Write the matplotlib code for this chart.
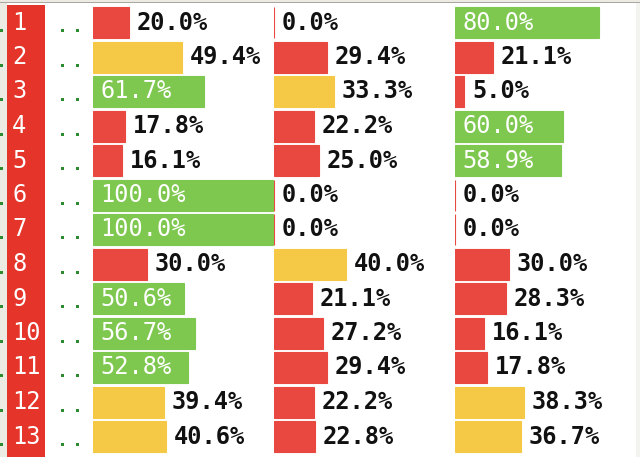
import matplotlib
matplotlib.use("Agg")
import matplotlib.pyplot as plt
from matplotlib.patches import Rectangle

# Daten
rows = [str(i) for i in range(1, 14)]
col1 = [20.0, 49.4, 61.7, 17.8, 16.1, 100.0, 100.0, 30.0, 50.6, 56.7, 52.8, 39.4, 40.6]
col2 = [0.0, 29.4, 33.3, 22.2, 25.0, 0.0, 0.0, 40.0, 21.1, 27.2, 29.4, 22.2, 22.8]
col3 = [80.0, 21.1, 5.0, 60.0, 58.9, 0.0, 0.0, 30.0, 28.3, 16.1, 17.8, 38.3, 36.7]
columns = [col1, col2, col3]

W, H = 640, 457
PX = 0.72  # points per pixel at dpi 100
FS = 17

RED_COL = "#e5352b"
RED_BAR = "#e8483f"
YELLOW = "#f5c945"
GREEN = "#7ec850"
DOT = "#2f8a2f"


def bar_color(v):
    if v >= 50:
        return GREEN
    if v >= 33:
        return YELLOW
    return RED_BAR


fig = plt.figure(figsize=(W / 100, H / 100), dpi=100)
fig.patch.set_facecolor("white")


def rect_px(x, y, w, h, color):
    # rectangle in pixels, y measured from the top
    fig.add_artist(Rectangle((x / W, 1 - (y + h) / H), w / W, h / H,
                             transform=fig.transFigure, facecolor=color,
                             edgecolor="none", zorder=0))


# Rahmen
rect_px(0, 0, W, 2, "#eceae2")
rect_px(0, 2, W, 1, "#a9a8a0")
rect_px(0, 3, 7, H - 3, "#ecebe3")
rect_px(636, 3, 4, H - 3, "#f3f3f0")
rect_px(7, 5, 38, H - 5, RED_COL)

pitch = 34.5
top = 7 - (pitch - 31) / 2
height = len(rows) * pitch
bottom_frac = 1 - (top + height) / H

# linke Spalte: Nummern und Punkte
ax_l = fig.add_axes([0, bottom_frac, 93 / W, height / H])
ax_l.set_xlim(0, 93)
ax_l.set_ylim(len(rows) - 0.5, -0.5)
ax_l.axis("off")
for i, r in enumerate(rows):
    ax_l.text(12, i, r, color="white", fontsize=FS, family="DejaVu Sans Mono",
              va="center", ha="left")
    ax_l.scatter([1, 62, 77], [i + 0.22] * 3, marker="s", s=(3 * PX) ** 2,
                 color=DOT, linewidths=0)

# Balkenspalten
for j, vals in enumerate(columns):
    ax = fig.add_axes([(93 + j * 181) / W, bottom_frac, 181 / W, height / H])
    ax.set_xlim(0, 100 * 181 / 180)
    ax.set_ylim(len(rows) - 0.5, -0.5)
    ax.axis("off")
    colors = [bar_color(v) for v in vals]
    ax.barh(range(len(vals)), vals, height=31 / pitch, color=colors,
            edgecolor=colors, linewidth=0.8)
    for i, v in enumerate(vals):
        label = f"{v:.1f}%"
        if v >= 50:
            ax.annotate(label, xy=(0, i), xytext=(7 * PX, 0), textcoords="offset points",
                        color="white", fontsize=FS, family="DejaVu Sans Mono",
                        va="center", ha="left")
        else:
            ax.annotate(label, xy=(v, i), xytext=(8 * PX, 0), textcoords="offset points",
                        color="#111111", fontsize=FS, family="DejaVu Sans Mono",
                        fontweight="bold", va="center", ha="left")

fig.savefig("out.png", dpi=100)
